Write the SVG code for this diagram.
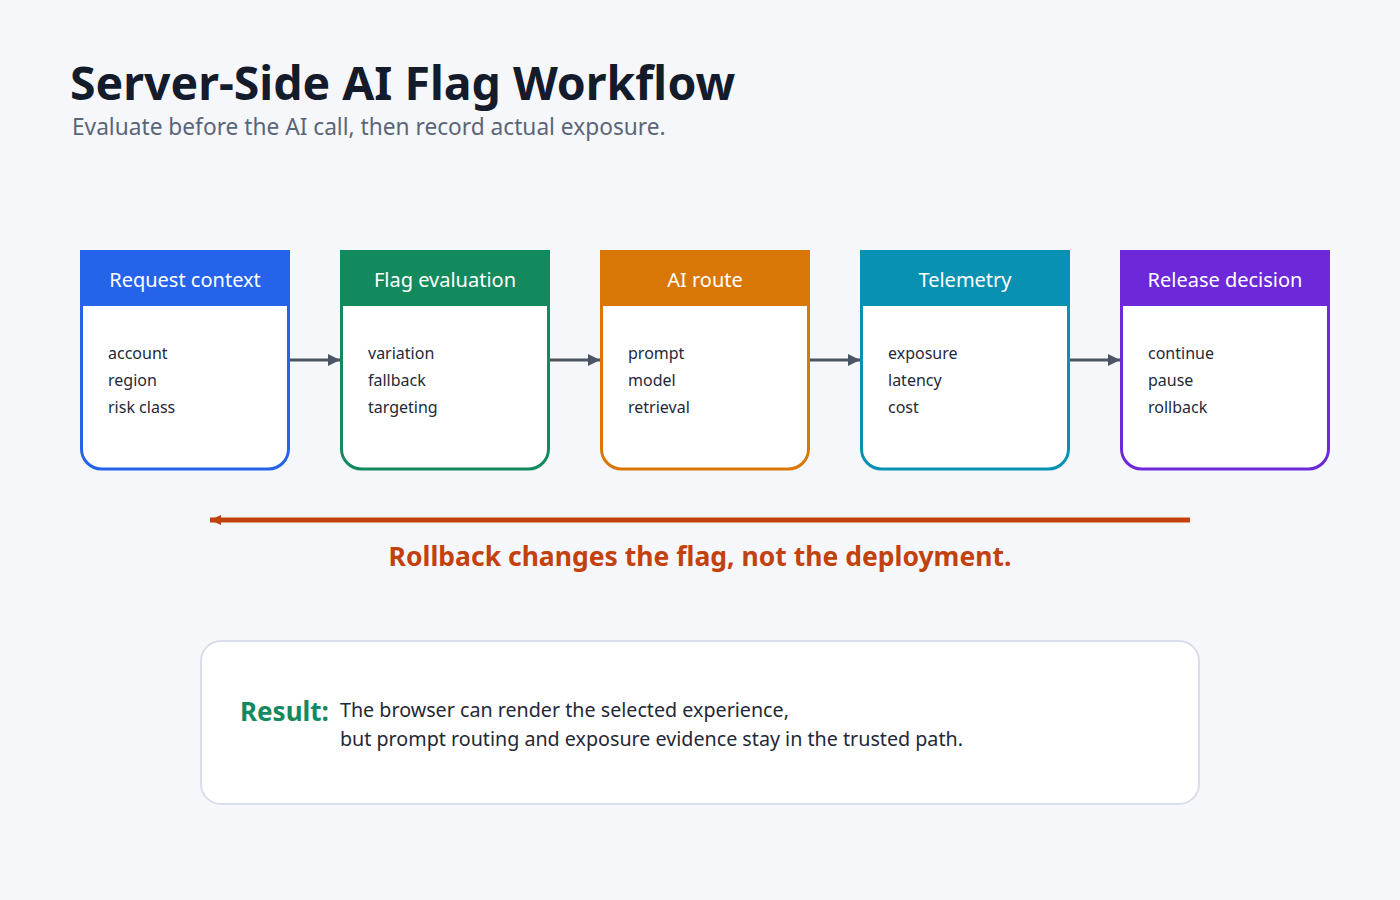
<svg xmlns="http://www.w3.org/2000/svg" width="1400" height="900" viewBox="0 0 1400 900">
<defs>
<marker id="ah" markerWidth="12" markerHeight="12" refX="12" refY="6" orient="auto" markerUnits="userSpaceOnUse"><path d="M0,0 L12,6 L0,12 Z" fill="#4b5563"/></marker>
<marker id="ahr" markerWidth="12" markerHeight="12" refX="11" refY="6" orient="auto" markerUnits="userSpaceOnUse"><path d="M0,1 L11,6 L0,11 Z" fill="#c2410c"/></marker>
<style>
text{font-family:"Noto Sans","Open Sans","DejaVu Sans",sans-serif}
.title{font-size:46.4px;font-weight:700;fill:#141b2b}
.sub{font-size:22.7px;fill:#5a6577}
.hdr{font-size:20px;fill:#ffffff;text-anchor:middle}
.item{font-size:16px;fill:#1f2937}
.body{fill:#ffffff;stroke-width:3}
.conn{stroke:#4b5563;stroke-width:3;fill:none}
</style>
</defs>
<rect width="1400" height="900" fill="#f6f7fb"/>
<text class="title" x="70" y="100">Server-Side AI Flag Workflow</text>
<text class="sub" x="72" y="135">Evaluate before the AI call, then record actual exposure.</text>

<g id="node-request">
<path class="body" stroke="#2563eb" d="M81.5,251.5 H288.5 V449 A20,20 0 0 1 268.5,469 H101.5 A20,20 0 0 1 81.5,449 Z"/>
<rect x="80" y="250" width="210" height="56" fill="#2563eb"/>
<text class="hdr" x="185" y="287">Request context</text>
<text class="item" x="108" y="359">account</text>
<text class="item" x="108" y="386">region</text>
<text class="item" x="108" y="413">risk class</text>
</g>
<g id="node-flag">
<path class="body" stroke="#138a5e" d="M341.5,251.5 H548.5 V449 A20,20 0 0 1 528.5,469 H361.5 A20,20 0 0 1 341.5,449 Z"/>
<rect x="340" y="250" width="210" height="56" fill="#138a5e"/>
<text class="hdr" x="445" y="287">Flag evaluation</text>
<text class="item" x="368" y="359">variation</text>
<text class="item" x="368" y="386">fallback</text>
<text class="item" x="368" y="413">targeting</text>
</g>
<g id="node-ai">
<path class="body" stroke="#d97706" d="M601.5,251.5 H808.5 V449 A20,20 0 0 1 788.5,469 H621.5 A20,20 0 0 1 601.5,449 Z"/>
<rect x="600" y="250" width="210" height="56" fill="#d97706"/>
<text class="hdr" x="705" y="287">AI route</text>
<text class="item" x="628" y="359">prompt</text>
<text class="item" x="628" y="386">model</text>
<text class="item" x="628" y="413">retrieval</text>
</g>
<g id="node-telemetry">
<path class="body" stroke="#0891b2" d="M861.5,251.5 H1068.5 V449 A20,20 0 0 1 1048.5,469 H881.5 A20,20 0 0 1 861.5,449 Z"/>
<rect x="860" y="250" width="210" height="56" fill="#0891b2"/>
<text class="hdr" x="965" y="287">Telemetry</text>
<text class="item" x="888" y="359">exposure</text>
<text class="item" x="888" y="386">latency</text>
<text class="item" x="888" y="413">cost</text>
</g>
<g id="node-release">
<path class="body" stroke="#6d28d9" d="M1121.5,251.5 H1328.5 V449 A20,20 0 0 1 1308.5,469 H1141.5 A20,20 0 0 1 1121.5,449 Z"/>
<rect x="1120" y="250" width="210" height="56" fill="#6d28d9"/>
<text class="hdr" x="1225" y="287">Release decision</text>
<text class="item" x="1148" y="359">continue</text>
<text class="item" x="1148" y="386">pause</text>
<text class="item" x="1148" y="413">rollback</text>
</g>

<g id="connectors">
<line class="conn" x1="290" y1="360" x2="340" y2="360" marker-end="url(#ah)"/>
<line class="conn" x1="550" y1="360" x2="600" y2="360" marker-end="url(#ah)"/>
<line class="conn" x1="810" y1="360" x2="860" y2="360" marker-end="url(#ah)"/>
<line class="conn" x1="1070" y1="360" x2="1120" y2="360" marker-end="url(#ah)"/>
<line x1="1190" y1="520" x2="210" y2="520" stroke="#c2410c" stroke-width="5" marker-end="url(#ahr)"/>
</g>
<text x="700" y="566" text-anchor="middle" font-size="26.5" font-weight="700" fill="#c2410c">Rollback changes the flag, not the deployment.</text>

<g id="result">
<rect x="201" y="641" width="998" height="163" rx="20" fill="#ffffff" stroke="#d9deea" stroke-width="2"/>
<text x="240" y="721" font-size="26" font-weight="700" fill="#138a5e">Result:</text>
<text x="340" y="717" font-size="19.7" fill="#1f2937">The browser can render the selected experience,</text>
<text x="340" y="746" font-size="19.7" fill="#1f2937">but prompt routing and exposure evidence stay in the trusted path.</text>
</g>
</svg>
